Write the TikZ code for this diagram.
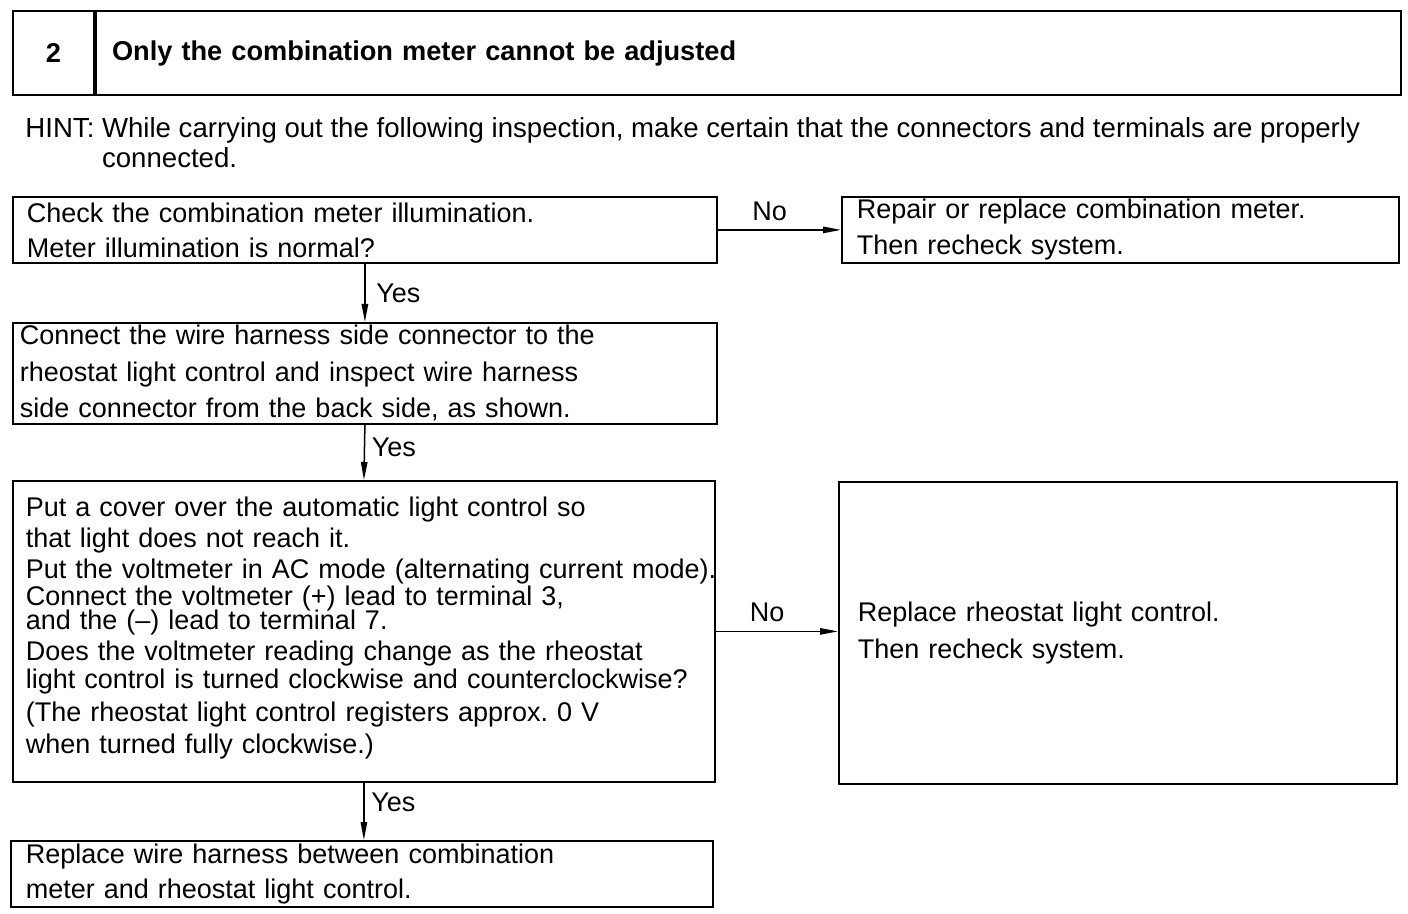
\documentclass[tikz,border=0pt]{standalone}
\usepackage{fontspec}
\setmainfont{Liberation Sans}
\usepackage{tikz}
\usetikzlibrary{arrows.meta, positioning}
\frenchspacing
\newcommand{\tightskip}{\lineskiplimit=-20pt\relax}

\begin{document}
\begin{tikzpicture}[
    x=0.5pt, y=-0.5pt,
    every node/.style={font=\fontsize{13.5}{17.5}\selectfont},
    box/.style={draw, line width=0.9pt, anchor=north west, align=left, inner ysep=0pt},
    link/.style={-{Triangle[length=9pt, width=3.2pt]}, line width=0.75pt}
]
    \useasboundingbox (0,0) rectangle (1408,914);

    % Header
    \node[box, line width=1pt, minimum width=40.5pt, minimum height=42pt, inner sep=0pt, align=center,
          font=\fontsize{13.6}{16}\selectfont\bfseries] (num) at (12,10) {2};
    \node[box, line width=1pt, text width=636.5pt, inner xsep=8pt, minimum height=42pt,
          font=\fontsize{13.6}{16}\selectfont\bfseries] (title) at (num.north east) {Only the combination meter cannot be adjusted};

    % Hint
    \node[anchor=north west, inner sep=0pt, align=left, font=\fontsize{13.8}{15}\selectfont] (hint) at (25,117)
        {HINT: While carrying out the following inspection, make certain that the connectors and terminals are properly\\\phantom{HINT: }connected.};

    % Steps
    \node[box, text width=338pt, inner xsep=7pt, minimum height=33pt] (check) at (12,196)
        {Check the combination meter illumination.\\Meter illumination is normal?};
    \node[box, text width=263.5pt, inner xsep=7.5pt, minimum height=33pt,
          font=\fontsize{13.5}{18}\selectfont] (repair) at (841,196)
        {Repair or replace combination meter.\\Then recheck system.};
    \node[box, text width=345pt, inner xsep=3.5pt, minimum height=50.5pt,
          font=\fontsize{13.5}{18.25}\selectfont] (connect) at (12,322)
        {Connect the wire harness side connector to the\\rheostat light control and inspect wire harness\\side connector from the back side, as shown.};
    \node[box, text width=338pt, inner xsep=6.5pt, minimum height=150.5pt,
          font=\fontsize{13.5}{12}\selectfont\tightskip] (cover) at (12,480)
        {Put a cover over the automatic light control so\\[3.5pt]
         that light does not reach it.\\[3.5pt]
         \mbox{Put the voltmeter in AC mode (alternating current mode).}\\[1.5pt]
         Connect the voltmeter (+) lead to terminal 3,\\
         and the (--) lead to terminal 7.\\[3.5pt]
         Does the voltmeter reading change as the rheostat\\[2pt]
         \mbox{light control is turned clockwise and counterclockwise?}\\[4.5pt]
         (The rheostat light control registers approx. 0 V\\[4pt]
         when turned fully clockwise.)\\[-6pt]\mbox{}};
    \node[box, text width=260pt, inner xsep=9.5pt, minimum height=151pt,
          font=\fontsize{13.5}{18.5}\selectfont] (rheostat) at (838,481)
        {Replace rheostat light control.\\Then recheck system.};
    \node[box, text width=336pt, inner xsep=7.5pt, minimum height=33pt] (wire) at (10,840)
        {Replace wire harness between combination\\meter and rheostat light control.};

    % Connectors
    \draw[link] (check) -- (repair) node[pos=.42, above=1pt] {No};
    \draw[link] (check.south) -- (connect.north) node[midway, right=2pt] {Yes};
    \draw[link] (connect.south) -- (cover.north) node[pos=.4, right] {Yes};
    \draw[link] (cover.east) -- (cover.east -| rheostat.west) node[pos=.42, above=1pt] {No};
    \draw[link] (cover.south) -- (cover.south |- wire.north) node[pos=.35, right] {Yes};
\end{tikzpicture}
\end{document}
